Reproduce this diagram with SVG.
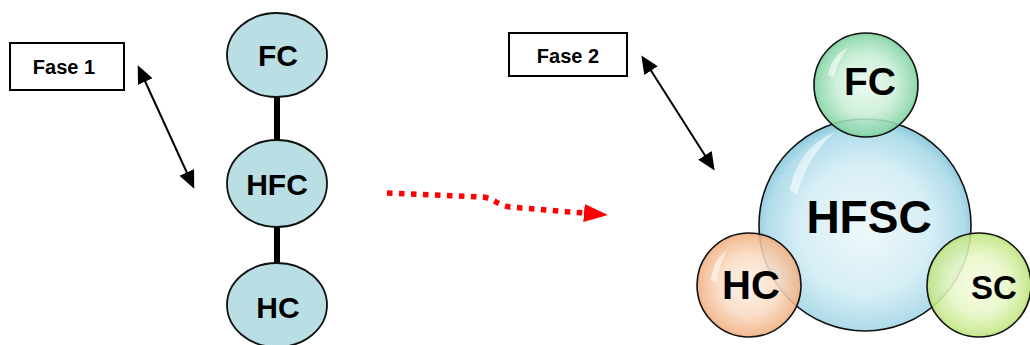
<svg xmlns="http://www.w3.org/2000/svg" width="1030" height="345" viewBox="0 0 1030 345">
  <style>
    .lbl { font-family: "Liberation Sans", Arial, sans-serif; font-weight: bold; fill: #000; text-anchor: middle; }
    .box { fill: #fff; stroke: #000; stroke-width: 2; }
    .ell { fill: #b9dfe4; stroke: #111; stroke-width: 1.8; }
    .bub { stroke: #111; stroke-width: 1.6; }
    .dbl { stroke: #000; stroke-width: 2; fill: none; }
    .hl { fill: #fff; opacity: 0.55; }
  </style>
  <defs>
    <marker id="ah" markerUnits="userSpaceOnUse" markerWidth="18" markerHeight="16" refX="15" refY="8" orient="auto-start-reverse" viewBox="0 0 18 16">
      <path d="M0,0 L18,8 L0,16 z" fill="#000"/>
    </marker>
    <marker id="rh" markerUnits="userSpaceOnUse" markerWidth="24" markerHeight="18" refX="0" refY="9" orient="auto" viewBox="0 0 24 18">
      <path d="M0,0 L24,9 L0,18 z" fill="#ff0000"/>
    </marker>
    <radialGradient id="gBlue" cx="50%" cy="52%" r="52%">
      <stop offset="0" stop-color="#eef8fb"/>
      <stop offset="0.6" stop-color="#d6eef5"/>
      <stop offset="0.9" stop-color="#b0dcea"/>
      <stop offset="1" stop-color="#8cc9de"/>
    </radialGradient>
    <radialGradient id="gGreen" cx="50%" cy="50%" r="52%">
      <stop offset="0" stop-color="#ecf9f0"/>
      <stop offset="0.55" stop-color="#c8eed6"/>
      <stop offset="0.9" stop-color="#8ad7a8"/>
      <stop offset="1" stop-color="#62c489"/>
    </radialGradient>
    <radialGradient id="gOrange" cx="50%" cy="50%" r="52%">
      <stop offset="0" stop-color="#fdf2e9"/>
      <stop offset="0.55" stop-color="#f9dac2"/>
      <stop offset="0.9" stop-color="#f2b68a"/>
      <stop offset="1" stop-color="#e99e6a"/>
    </radialGradient>
    <radialGradient id="gLime" cx="50%" cy="50%" r="52%">
      <stop offset="0" stop-color="#f7fce9"/>
      <stop offset="0.55" stop-color="#e6f6c4"/>
      <stop offset="0.9" stop-color="#c5e789"/>
      <stop offset="1" stop-color="#a8d760"/>
    </radialGradient>
  </defs>

  <g id="connectors">
    <line x1="277" y1="97" x2="277" y2="140" stroke="#000" stroke-width="6"/>
    <line x1="277" y1="227" x2="277" y2="263" stroke="#000" stroke-width="6"/>
    <line class="dbl" x1="139" y1="68" x2="193" y2="186" marker-start="url(#ah)" marker-end="url(#ah)"/>
    <line class="dbl" x1="643" y1="58" x2="713" y2="168" marker-start="url(#ah)" marker-end="url(#ah)"/>
    <path d="M387,193 L483,197 C495,199 497,205 510,207 L584,213" fill="none" stroke="#ff0000" stroke-width="5.5" stroke-dasharray="5.5 6.5" marker-end="url(#rh)"/>
  </g>

  <g id="fase1">
    <rect class="box" x="10" y="43" width="114" height="47"/>
    <text class="lbl" x="64" y="74" font-size="20">Fase 1</text>
  </g>
  <g id="fase2">
    <rect class="box" x="509" y="33" width="118" height="43"/>
    <text class="lbl" x="568" y="63" font-size="20">Fase 2</text>
  </g>

  <g id="fc-left">
    <ellipse class="ell" cx="277" cy="55" rx="50" ry="42"/>
    <text class="lbl" x="278" y="66" font-size="30">FC</text>
  </g>
  <g id="hfc-left">
    <ellipse class="ell" cx="277" cy="183.5" rx="50" ry="43.5"/>
    <text class="lbl" x="277" y="195" font-size="30">HFC</text>
  </g>
  <g id="hc-left">
    <ellipse class="ell" cx="277" cy="305" rx="50" ry="42"/>
    <text class="lbl" x="278" y="318" font-size="30">HC</text>
  </g>

  <g id="hfsc">
    <circle class="bub" cx="865" cy="225" r="106" fill="url(#gBlue)"/>
    <path class="hl" d="M790,190 C795,160 815,140 835,132 C820,145 805,165 797,195 Z" opacity="0.5"/>
    <text class="lbl" x="869" y="233" font-size="46">HFSC</text>
  </g>
  <g id="fc-right">
    <circle class="bub" cx="866" cy="85" r="52" fill="url(#gGreen)" fill-opacity="0.88"/>
    <path class="hl" d="M828,75 C830,62 838,52 848,48 C842,56 836,66 834,78 Z"/>
    <text class="lbl" x="870" y="95" font-size="39">FC</text>
  </g>
  <g id="hc-right">
    <circle class="bub" cx="749" cy="285" r="52" fill="url(#gOrange)" fill-opacity="0.88"/>
    <path class="hl" d="M711,280 C712,266 718,256 727,251 C722,260 718,270 717,283 Z"/>
    <text class="lbl" x="751" y="299" font-size="40">HC</text>
  </g>
  <g id="sc-right">
    <circle class="bub" cx="979" cy="285" r="52" fill="url(#gLime)" fill-opacity="0.88"/>
    <text class="lbl" x="994" y="299" font-size="33">SC</text>
  </g>
</svg>
